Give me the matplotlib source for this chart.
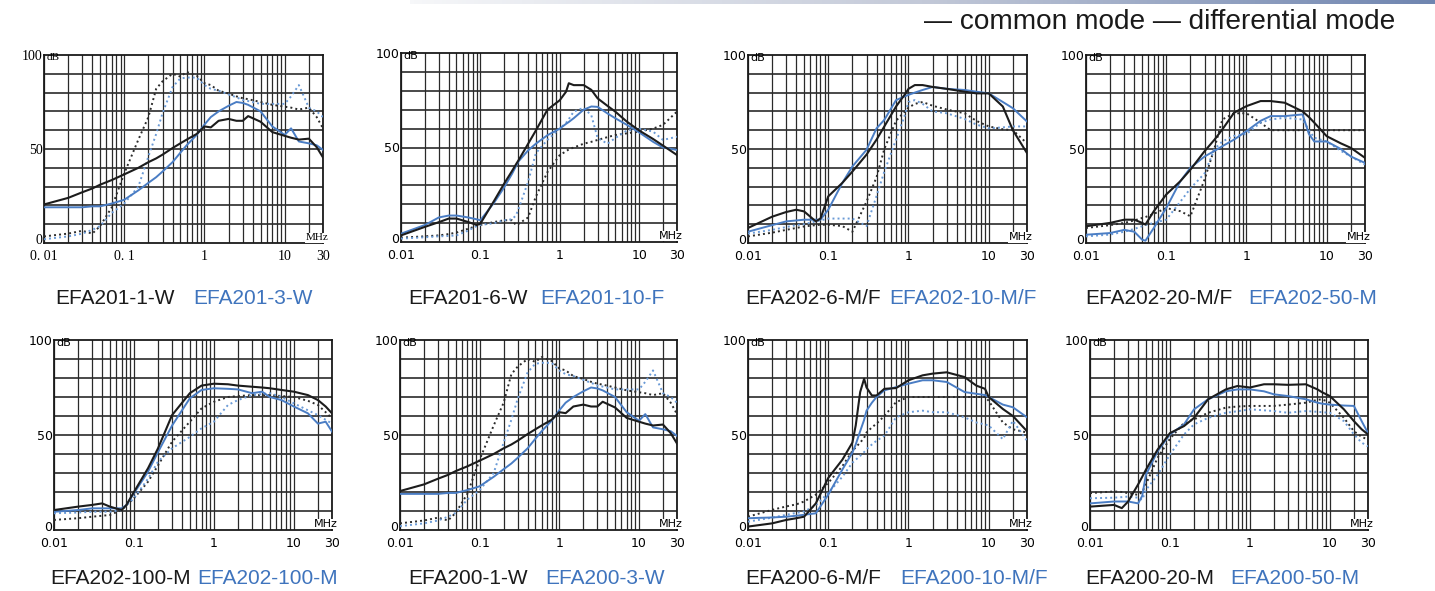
import numpy as np
import matplotlib
matplotlib.use("Agg")
import matplotlib.pyplot as plt
from matplotlib.transforms import ScaledTranslation
from matplotlib.colors import LinearSegmentedColormap

# ---------------- data ----------------
# Panel 1 / 6 : EFA201-1-W / EFA201-3-W (and EFA200-1-W / EFA200-3-W)
f1 = [0.01, 0.02, 0.03, 0.04, 0.05, 0.07, 0.1, 0.15, 0.2, 0.25, 0.3, 0.4, 0.5, 0.6, 0.8,
      1, 1.2, 1.5, 2, 2.5, 3, 3.5, 5, 7, 10, 12, 15, 20, 25, 30]
p1_cm_a = [20.5, 24, 27, 29, 31, 33.5, 36.5, 40, 43, 45, 47, 50.5, 53, 55, 58,
           62, 61.5, 65, 66, 65, 65, 67.5, 64.5, 59, 57, 56, 55, 55.5, 51, 45.5]
p1_cm_b = [19, 19, 19, 19.5, 19.5, 21, 23, 28, 32, 35, 38, 43, 48, 52, 57.5,
           63, 67, 70, 73, 75, 74.5, 73.5, 70, 62, 57.5, 61, 54, 53, 52, 49.5]
p1_dm_a = [3.5, 5, 6.5, 5, 9, 19, 37, 55, 67, 82, 86, 90, 88.5, 91, 89,
           85, 84, 81, 79.5, 78, 77, 76.5, 75, 73.5, 72.5, 72, 71, 72, 67, 61]
p1_dm_b = [2, 3.5, 5, 7, 9, 16, 21, 30, 46, 58, 69, 83, 87.5, 88, 88,
           84, 82, 81, 79, 77.5, 76, 75.5, 74, 74, 74, 78, 84, 72, 70, 67]

# Panel 2 : EFA201-6-W / EFA201-10-F
f2 = [0.01, 0.02, 0.03, 0.04, 0.05, 0.07, 0.09, 0.1, 0.15, 0.2, 0.25, 0.28, 0.3, 0.4, 0.5,
      0.7, 1, 1.2, 1.3, 1.5, 2, 2.5, 3, 4, 5, 7, 10, 15, 20, 30]
p2_cm_a = [3.5, 8, 10.5, 12.4, 12.4, 10.6, 9, 9.7, 22, 31, 37.5, 41, 43, 52, 59,
           70, 75, 79.5, 84, 83, 83, 80.5, 76, 72, 69, 63.7, 59, 54.5, 51, 46]
p2_cm_b = [4.4, 9, 13, 14, 14, 13, 12, 11.5, 21, 29, 36, 40, 42.5, 48.5, 52,
           56.5, 60, 62.5, 63.5, 65.5, 70, 71.7, 71.5, 68, 65.5, 62, 58, 53, 50, 48.7]
p2_dm_a = [2.3, 3, 3.5, 4.2, 5, 7, 8.5, 9, 10.6, 11.5, 11.5, 9, 9.5, 13, 24,
           37, 46, 48, 49, 50, 52, 53, 54, 55.5, 56.6, 57.5, 58.4, 60, 62, 69]
p2_dm_b = [1.8, 2.5, 3, 3.2, 3.5, 6, 8.5, 9, 10, 11.5, 12, 14, 17, 32, 47,
           54, 60, 63, 65, 69, 71, 67, 55, 52, 55, 59, 60, 58.4, 54, 55.7]

# Panel 3 : EFA202-6-M/F / EFA202-10-M/F
f3 = [0.01, 0.02, 0.03, 0.04, 0.05, 0.07, 0.08, 0.1, 0.15, 0.2, 0.3, 0.4, 0.5, 0.7, 0.9,
      1, 1.2, 1.5, 2, 3, 5, 7, 10, 15, 20, 30]
p3_cm_a = [8, 14, 16.5, 17.7, 16.8, 11.5, 13, 24.8, 32, 38, 47, 55, 62, 72.6, 79,
           82, 84, 84, 83, 82, 80.5, 79.6, 79.6, 72.6, 60, 47.8]
p3_cm_b = [6, 9.5, 11.5, 12, 12.4, 12.4, 12.4, 17.7, 32, 40.7, 49.6, 61, 65.5, 76, 78,
           78.8, 80, 81.4, 83, 82, 81.4, 80.5, 79.6, 75, 71.7, 64.6]
p3_dm_a = [3.5, 5.5, 7, 8, 8.8, 9.5, 9.7, 9.7, 9, 6, 22, 35, 50, 65, 70,
           72, 74, 75, 73, 71, 69, 65, 62, 60.5, 60, 53]
p3_dm_b = [5, 7, 8.5, 9.5, 10, 11.5, 12, 13, 13, 13, 9, 25, 38, 55, 68,
           75, 76, 74, 70, 69, 66, 63, 61, 61.5, 62, 62]

# Panel 4 : EFA202-20-M/F / EFA202-50-M
f4 = [0.01, 0.02, 0.03, 0.04, 0.05, 0.055, 0.07, 0.1, 0.15, 0.2, 0.3, 0.4, 0.5, 0.7, 1,
      1.5, 2, 3, 5, 6, 7, 10, 15, 20, 30]
p4_cm_a = [8.9, 10.7, 12.4, 12.4, 10.7, 9.8, 16.9, 25.8, 32.9, 39, 48.8, 55, 60.4, 69.3, 72.8,
           75.5, 75.5, 74.6, 70, 67, 64, 56.8, 53, 50.6, 45.3]
p4_cm_b = [4.4, 5.3, 7, 6, 1.8, 1.2, 8, 18.6, 32.9, 40, 46, 49, 51.5, 55, 59.5,
           65, 67.5, 67.5, 68.4, 58, 54, 54, 50, 46, 42.6]
p4_dm_a = [8, 9.5, 10.7, 12, 13.3, 13.8, 15.5, 18.6, 16.9, 14.2, 33.7, 50.6, 65.7, 69, 69,
           64, 60, 60, 60, 60, 60, 60, 60, 60, 60]
p4_dm_b = [3.5, 4.5, 6, 7.5, 8.9, 9.5, 10.7, 12.4, 22, 29, 37, 50, 54, 57, 58,
           64, 65.7, 66.6, 65.7, 60, 56, 54, 49, 46, 41.7]

# Panel 5 : EFA202-100-M / EFA202-100-M
f5 = [0.01, 0.02, 0.03, 0.04, 0.05, 0.07, 0.08, 0.1, 0.15, 0.2, 0.3, 0.5, 0.7, 1, 1.5,
      2, 3, 4, 5, 7, 10, 15, 20, 25, 30]
p5_cm_a = [10.5, 12.3, 13.2, 14, 12.3, 10.5, 13, 20, 32.5, 43, 60.5, 72, 76, 77, 76.7,
           76, 75.4, 75, 74.6, 73.7, 72.8, 71, 68.4, 65, 61.4]
p5_cm_b = [9.6, 10.5, 11.4, 11.4, 11.4, 11.4, 13, 19.3, 30.7, 41, 55, 69.3, 73.7, 74.6, 74.3,
           74, 72, 72.8, 70, 68.4, 65, 61.4, 56, 57, 51.8]
p5_dm_a = [5.3, 6.2, 7, 7.5, 7.9, 10.5, 13, 16.7, 25.4, 34, 46.5, 57, 64, 67.5, 70,
           70.5, 71, 71, 71, 70.5, 70, 68, 65.8, 62, 58.8]
p5_dm_b = [8.8, 9.2, 9.6, 9.6, 9.6, 10.5, 13, 16.7, 27, 36, 43, 49, 53.5, 57, 65.8,
           68.4, 71, 71.5, 72, 70, 66.7, 63, 60.5, 58, 56]

# Panel 7 : EFA200-6-M/F / EFA200-10-M/F
f7 = [0.01, 0.02, 0.03, 0.04, 0.05, 0.07, 0.1, 0.15, 0.2, 0.22, 0.25, 0.28, 0.3, 0.35, 0.4,
      0.5, 0.7, 1, 1.5, 2, 3, 5, 7, 9, 10, 15, 20, 30]
p7_cm_a = [1.8, 3.5, 5.3, 6.2, 7, 14, 27.4, 37, 46, 55, 72.6, 79.6, 75, 70.8, 70.8,
           74.3, 74.7, 78.8, 81.4, 82.3, 83, 80.5, 76, 74.3, 70, 63.7, 60, 52]
p7_cm_b = [6.2, 6.6, 7, 7.5, 8, 8.8, 18.6, 31.8, 40.7, 45, 52, 58, 62.8, 67, 70,
           73.5, 75.2, 77, 78.8, 78.8, 77.9, 72.6, 71.7, 71, 70, 66, 64.6, 59.3]
p7_dm_a = [7, 10.6, 12.4, 13.5, 15, 18.6, 24.8, 33.6, 41.6, 43.5, 46, 48.5, 51.3, 54, 56,
           60, 67.3, 70, 70, 70, 70, 70, 70, 70, 68, 56.6, 53, 51.3]
p7_dm_b = [4.4, 6.5, 8, 9, 9.7, 13, 19.5, 28, 35.4, 37, 39, 41, 42.5, 45, 47,
           49.6, 59.3, 62, 62.8, 62, 62, 59.3, 56.6, 55.5, 55, 47.8, 57.5, 47]

# Panel 8 : EFA200-20-M / EFA200-50-M
f8 = [0.01, 0.02, 0.025, 0.03, 0.04, 0.045, 0.05, 0.07, 0.1, 0.15, 0.2, 0.3, 0.5, 0.7, 1,
      1.5, 2, 3, 5, 7, 8, 10, 15, 20, 25, 30]
p8_cm_a = [12.3, 13.2, 11.5, 15, 24, 28, 31.7, 42.3, 51, 54.7, 59, 68.8, 74, 75.8, 75,
           76.7, 76.7, 76.4, 76.7, 74, 72.5, 70.5, 63.5, 57.3, 53, 50.3]
p8_cm_b = [14, 15, 15, 15, 14, 18, 29, 41.4, 50.3, 55.6, 63.5, 68.8, 73, 74, 74,
           73, 71.4, 70.5, 68.8, 67, 66.5, 66, 65.5, 65.3, 57.3, 51]
p8_dm_a = [19.4, 20.3, 20, 19.4, 18.5, 20, 24, 38, 48, 56.4, 58.2, 61.7, 64.4, 65, 65.3,
           65.3, 65.3, 66, 67, 68.5, 68.8, 67, 59, 52, 49, 47.6]
p8_dm_b = [16.7, 17, 17.3, 17.6, 17, 15.9, 21, 29, 39.7, 50.3, 55.6, 59, 61.7, 62.5, 63.5,
           63, 62.6, 61.7, 62.6, 62.2, 62, 61.7, 57.3, 50.3, 46, 44]

names_a = ["EFA201-1-W", "EFA201-6-W", "EFA202-6-M/F", "EFA202-20-M/F",
           "EFA202-100-M", "EFA200-1-W", "EFA200-6-M/F", "EFA200-20-M"]
names_b = ["EFA201-3-W", "EFA201-10-F", "EFA202-10-M/F", "EFA202-50-M",
           "EFA202-100-M", "EFA200-3-W", "EFA200-10-M/F", "EFA200-50-M"]

x_tick_vals = [0.01, 0.1, 1, 10, 30]
x_tick_text = ["0.01", "0.1", "1", "10", "30"]
x_tick_text_serif = ["0. 01", "0. 1", "1", "10", "30"]
y_tick_vals = [0, 50, 100]

panels = [
    (f1, p1_cm_a, p1_cm_b, p1_dm_a, p1_dm_b),
    (f2, p2_cm_a, p2_cm_b, p2_dm_a, p2_dm_b),
    (f3, p3_cm_a, p3_cm_b, p3_dm_a, p3_dm_b),
    (f4, p4_cm_a, p4_cm_b, p4_dm_a, p4_dm_b),
    (f5, p5_cm_a, p5_cm_b, p5_dm_a, p5_dm_b),
    (f1, p1_cm_a, p1_cm_b, p1_dm_a, p1_dm_b),
    (f7, p7_cm_a, p7_cm_b, p7_dm_a, p7_dm_b),
    (f8, p8_cm_a, p8_cm_b, p8_dm_a, p8_dm_b),
]

# ---------------- layout (pixels) ----------------
W, H = 1435, 591
boxes = [(44, 55, 323, 243), (401, 53, 677, 242), (748, 55, 1027, 243), (1086, 55, 1365, 243),
         (54, 340, 332, 530), (400, 340, 677, 530), (748, 340, 1027, 530), (1090, 340, 1368, 530)]
label_pos = [(55, 193, 298), (408, 540, 298), (745, 889, 298), (1085, 1248, 298),
             (50, 197, 578), (408, 545, 578), (745, 900, 578), (1085, 1230, 578)]

BLACK = "#1c1c1c"
BLUE = "#4a7dc4"
BLUE_TXT = "#3f74bd"
GRID = "#2a2a2a"

fig = plt.figure(figsize=(W / 100, H / 100), dpi=100)
fig.patch.set_facecolor("white")

# grid positions for log axis
vgrid = []
for dec in [0.01, 0.1, 1, 10]:
    for k in range(1, 10):
        v = k * dec
        if v <= 30.0001:
            vgrid.append(v)

for i, (box, data) in enumerate(zip(boxes, panels)):
    x0, y0, x1, y1 = box
    ax = fig.add_axes([x0 / W, 1 - y1 / H, (x1 - x0) / W, (y1 - y0) / H])
    ax.set_xscale("log")
    ax.set_xlim(0.01, 30)
    ax.set_ylim(0, 100)
    serif = (i == 0)
    fam = "Liberation Serif" if serif else "DejaVu Sans"
    tfs = 10 if serif else 9
    for v in vgrid:
        ax.axvline(v, color=GRID, lw=0.9, zorder=1)
    for v in range(10, 100, 10):
        ax.axhline(v, color=GRID, lw=1.2, zorder=1)
    f, cma, cmb, dma, dmb = data
    ax.plot(f, dma, color="#2b2b2b", lw=1.4, ls=(0, (1, 1.6)), zorder=3)
    ax.plot(f, dmb, color="#6a9ad6", lw=1.4, ls=(0, (1, 1.6)), zorder=3)
    ax.plot(f, cmb, color=BLUE, lw=1.4, zorder=4)
    ax.plot(f, cma, color=BLACK, lw=1.5, zorder=5)
    ax.set_xticks(x_tick_vals)
    ax.set_xticklabels(x_tick_text_serif if serif else x_tick_text, family=fam, fontsize=tfs)
    ax.xaxis.set_minor_locator(matplotlib.ticker.NullLocator())
    ax.set_yticks(y_tick_vals)
    ax.set_yticklabels([str(v) for v in y_tick_vals], family=fam, fontsize=tfs)
    ax.tick_params(axis="x", length=0, pad=5)
    ax.tick_params(axis="y", length=0, pad=1)
    # nudge "0" up a little so it sits above the x tick labels
    ylabs = ax.get_yticklabels()
    ylabs[0].set_transform(ylabs[0].get_transform() +
                           ScaledTranslation(0, 3 / 72, fig.dpi_scale_trans))
    for s in ax.spines.values():
        s.set_linewidth(1.3)
        s.set_color("#1a1a1a")
    ax.text(0.0107, 98.5, "dB", family=fam, fontsize=8, va="center", ha="left", zorder=6)
    ax.text(1.02, 0.005, "MHz", transform=ax.transAxes, family=fam, fontsize=8,
            va="bottom", ha="right", zorder=6,
            bbox=dict(facecolor="white", edgecolor="none", pad=0.3))
    xa, xb, yl = label_pos[i]
    fig.text(xa / W, 1 - yl / H, names_a[i], family="Liberation Sans", fontsize=15,
             color="#1a1a1a", va="center", ha="left")
    fig.text(xb / W, 1 - yl / H, names_b[i], family="Liberation Sans", fontsize=15,
             color=BLUE_TXT, va="center", ha="left")

# legend text
fig.text(1395 / W, 1 - 22 / H, "\u2014 common mode \u2014 differential mode",
         family="Liberation Sans", fontsize=20.2, color="#1a1a1a", ha="right", va="center")

# top decorative gradient bar
bar = fig.add_axes([410 / W, 1 - 4 / H, (W - 410) / W, 4 / H])
grad = np.linspace(0, 1, 256)[None, :]
cmap = LinearSegmentedColormap.from_list("bar", ["#f6f7f9", "#c3c9d8", "#6f85b0"])
bar.imshow(grad, aspect="auto", cmap=cmap)
bar.axis("off")

fig.savefig("out.png", dpi=100, facecolor="white")
